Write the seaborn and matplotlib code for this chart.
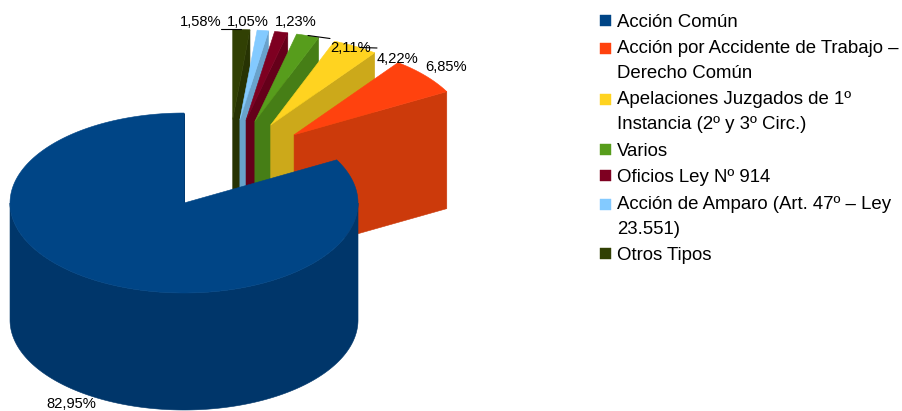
import numpy as np
import matplotlib
matplotlib.use("Agg")
import matplotlib.pyplot as plt
from matplotlib.patches import Polygon, Patch, Rectangle
from matplotlib.legend_handler import HandlerPatch
import seaborn as sns

# ---- data ----
categories = [
    "Acción Común",
    "Acción por Accidente de Trabajo –\nDerecho Común",
    "Apelaciones Juzgados de 1º\nInstancia (2º y 3º Circ.)",
    "Varios",
    "Oficios Ley Nº 914",
    "Acción de Amparo (Art. 47º – Ley\n23.551)",
    "Otros Tipos",
]
values = [82.95, 6.85, 4.22, 2.11, 1.23, 1.05, 1.58]
top_colors = ["#004586", "#ff420e", "#ffd320", "#579d1c", "#7e0021", "#83caff", "#314004"]
side_colors = ["#00366a", "#cc3a0b", "#cca91a", "#467e16", "#65001a", "#69a2cc", "#273303"]

# ---- layout (pixels) ----
W, H = 903, 411
CENTER = (228.4, 164.3)
RX, RY = 174.0, 90.0
DEPTH = 117.0
EXPLODE = 0.5
START = 90.0
FONT = ["Liberation Sans", "DejaVu Sans"]
label_xy = [(71, 403.5), (446, 67), (397.5, 59), (351, 48), (296, 22), (248, 22), (200.5, 22)]
leader_lines = [((221, 29.5), (241, 29.5)), ((308, 35.5), (330, 38.5)), ((360, 47.5), (377, 48))]

sns.set_theme(style="white")
plt.rcParams["font.family"] = FONT
palette = sns.color_palette(top_colors)
side_palette = sns.color_palette(side_colors)

fig = plt.figure(figsize=(W / 100, H / 100), dpi=100)
ax = fig.add_axes([0, 0, 1, 1])
ax.set_xlim(0, W)
ax.set_ylim(H, 0)
ax.axis("off")


def arc(cx, cy, a0, a1, dy=0.0):
    t = np.radians(np.linspace(a0, a1, 240))
    return np.column_stack([cx + RX * np.cos(t), cy - RY * np.sin(t) + dy])


# slice angles, counter-clockwise from the top
shares = np.array(values) / sum(values) * 360.0
starts = START + np.concatenate([[0.0], np.cumsum(shares)[:-1]])
ends = starts + shares

# paint back to front: the small slices nearest the top first, the big one last
for i in [6, 5, 4, 3, 2, 1, 0]:
    a0, a1 = starts[i], ends[i]
    mid = np.radians((a0 + a1) / 2)
    cx = CENTER[0] + EXPLODE * RX * np.cos(mid)
    cy = CENTER[1] - EXPLODE * RY * np.sin(mid)
    z = 2 + (6 - i)
    side = side_palette[i]
    # flat cut face at the start of the slice
    p = arc(cx, cy, a0, a0)[0]
    if np.sin(np.radians(a0)) > 0:
        face = [(cx, cy), tuple(p), (p[0], p[1] + DEPTH), (cx, cy + DEPTH)]
        ax.add_patch(Polygon(face, closed=True, fc=side, ec=side, lw=0.4, zorder=z))
    # outer wall: only the part of the rim that faces the viewer
    lo, hi = max(a0, 180.0), min(a1, 360.0)
    if hi > lo:
        upper = arc(cx, cy, lo, hi)
        lower = arc(cx, cy, lo, hi, DEPTH)[::-1]
        ax.add_patch(Polygon(np.vstack([upper, lower]), closed=True, fc=side, ec=side, lw=0.4, zorder=z))
    # top face
    top = np.vstack([[cx, cy], arc(cx, cy, a0, a1)])
    ax.add_patch(Polygon(top, closed=True, fc=palette[i], ec=palette[i], lw=0.4, zorder=z + 0.5))

for (p0, p1) in leader_lines:
    ax.plot([p0[0], p1[0]], [p0[1], p1[1]], color="black", lw=0.8, zorder=20)

for v, (x, y) in zip(values, label_xy):
    ax.text(x, y, f"{v:.2f}%".replace(".", ","), ha="center", va="center",
            fontsize=10.6, color="black", zorder=21)

# ---- legend ----
LEG_FS = 13.4
px = 100 / 72  # pixels per point
LINE_GAP = 25.0


def square_for(n_lines):
    def make(legend, orig_handle, xdescent, ydescent, width, height, fontsize):
        lift = (n_lines - 1) * LINE_GAP / 2 / px
        side = 11 / px
        return Rectangle((-xdescent, -ydescent + (height - side) / 2 + lift), side, side)
    return make


handles = [Patch(fc=c, ec=c, lw=0.3) for c in palette]
hmap = {h: HandlerPatch(patch_func=square_for(lab.count("\n") + 1)) for h, lab in zip(handles, categories)}
leg = ax.legend(
    handles, categories, handler_map=hmap,
    loc="upper left", bbox_to_anchor=(600 / W, 1 - 13.5 / H), bbox_transform=fig.transFigure,
    frameon=False, borderpad=0, borderaxespad=0,
    fontsize=LEG_FS, handlelength=11 / px / LEG_FS, handleheight=0.7,
    handletextpad=6 / px / LEG_FS, labelspacing=0.52,
    prop={"family": FONT, "size": LEG_FS},
)
for t in leg.get_texts():
    t.set_linespacing(1.58)
    t.set_color("black")

fig.savefig("out.png", dpi=100, facecolor="white")
